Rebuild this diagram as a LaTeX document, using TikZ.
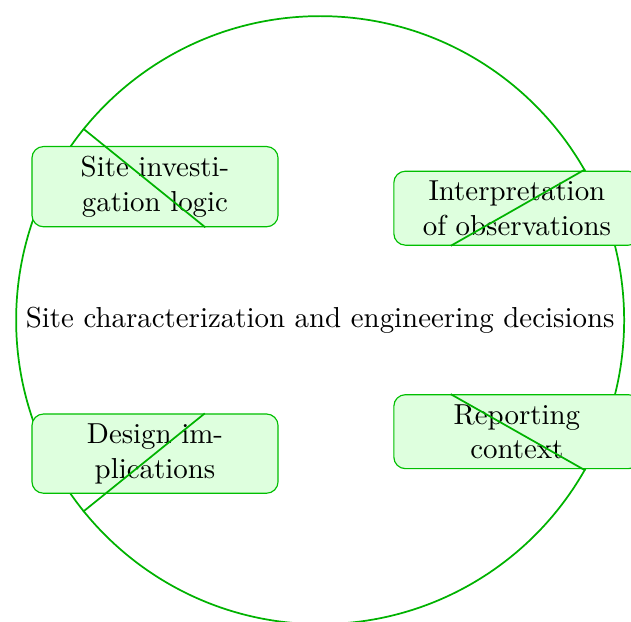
\documentclass[tikz,border=0pt]{standalone}
\usepackage{amsmath}
\usepackage{tikz}

\begin{document}
\begin{tikzpicture}[
  hub/.style={circle, draw=green!70!black, semithick},
  topic/.style={draw=green!75!black, fill=green!13, rounded corners, text width=2.76cm, align=center},
  link/.style={draw=green!70!black, semithick}]
\useasboundingbox (-3.895,-3.664) rectangle (3.782,3.895);
\node[hub] (hub) at (0,0) {Site characterization and engineering decisions};
\node[topic] (inv) at (-2.009,1.624) {Site investigation logic};
\node[topic] (obs) at (2.394,1.362) {Interpretation of observations};
\node[topic] (rep) at (2.394,-1.357) {Reporting context};
\node[topic] (des) at (-2.009,-1.624) {Design implications};
\draw[link] (hub) -- (inv);
\draw[link] (hub) -- (obs);
\draw[link] (hub) -- (rep);
\draw[link] (hub) -- (des);
\end{tikzpicture}
\end{document}
